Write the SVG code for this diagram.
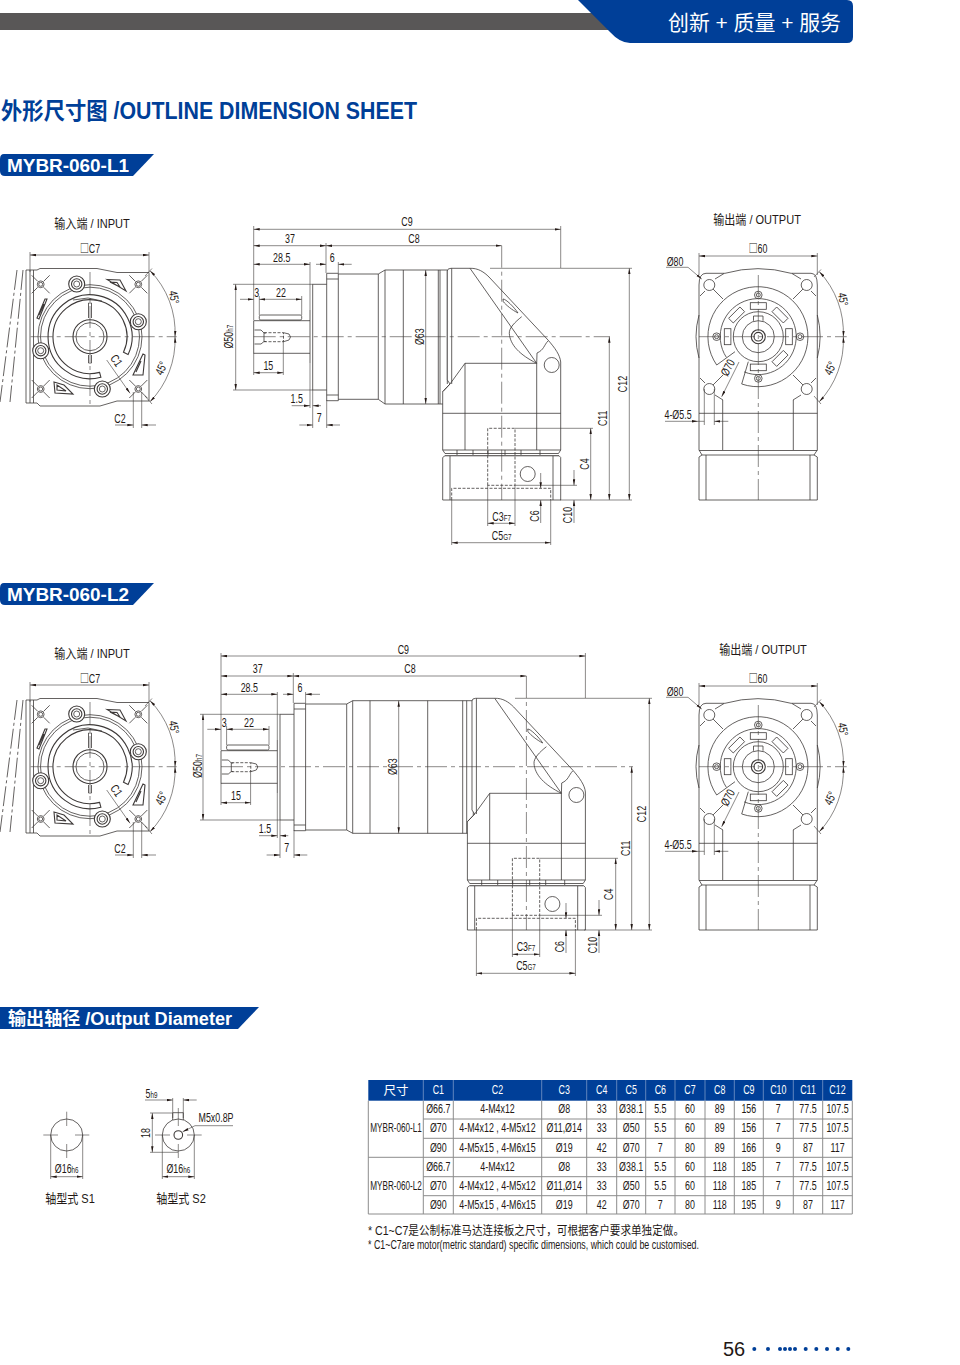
<svg xmlns="http://www.w3.org/2000/svg" xmlns:xlink="http://www.w3.org/1999/xlink" width="960" height="1365" viewBox="0 0 960 1365">
<style>
text{font-family:"Liberation Sans","Noto Sans CJK SC",sans-serif;fill:#231815;font-size:12px}
.m{text-anchor:middle;transform-box:fill-box;transform-origin:center;transform:scaleX(.74)}
.r{text-anchor:middle}
.lb{transform:scaleX(.85);font-size:13px}
.n{transform:scaleX(.68)}
.sub{font-size:8.500px}
.sq{font-family:"Noto Sans CJK SC",sans-serif;font-size:12px}
.bl{font-weight:bold;fill:#003f98}
.w{fill:#fff}
.wb{font-weight:bold;fill:#fff}
.g,.g *{fill:none;stroke:#3e3a39;stroke-width:.8}
.h{stroke-width:1.100!important}
.f{fill:#fff!important}
.d{fill:none;stroke:#3e3a39;stroke-width:.6}
.a{marker-end:url(#ar)}
.b{marker-start:url(#ar);marker-end:url(#ar)}
.dash{stroke-dasharray:3 1.500}
.cl{stroke-dasharray:22 4 4 4;fill:none;stroke:#3e3a39;stroke-width:.6}
.tb{fill:none;stroke:#8c8c8c;stroke-width:1}
.hd{fill:#fff}
</style>
<defs>
<marker id="ar" markerUnits="userSpaceOnUse" markerWidth="7" markerHeight="3" refX="6" refY="1.500" orient="auto-start-reverse"><path d="M0 .3L6 1.500L0 2.700Z" fill="#231815"/></marker>
<g id="hole"><circle r="3.400"/><circle r="2"/><path d="M-9 -9L-3 -3M9 -9L3 -3M-9 9L-3 3M9 9L3 3"/></g>
<g id="boss"><circle r="8" class="f h"/><circle r="5.200" class="h"/><circle r="3"/></g>
<g id="inview" class="g">
<path d="M17 270L0 402M23 270L10 402" stroke-dasharray="20 3 3 3"/>
<path d="M26 270V403M26 270H37L40 268.500H97L117 272.500H149V401H117L100 406H40L37 403H26M30 270V403M33.500 270V403"/>
<use xlink:href="#hole" x="40.700" y="284.300"/><use xlink:href="#hole" x="138.300" y="284.300"/><use xlink:href="#hole" x="40.700" y="389"/><use xlink:href="#hole" x="138.300" y="389"/>
<circle cx="90" cy="336.700" r="52"/><circle cx="90" cy="336.700" r="49.500"/>
<path class="h" d="M128.100 354.500A42 42 0 1 0 100.900 377.300L99.600 372.400A37 37 0 1 1 123.500 352.300Z"/>
<circle cx="90" cy="336.700" r="17" class="h"/><circle cx="90" cy="336.700" r="14"/>
<path d="M88.500 303V318M91.500 303V318M88.500 355V363M91.500 355V363M88.500 363H91.500M88.500 303H91.500M73 300L88 298L102 301"/>
<use xlink:href="#boss" x="76.700" y="284"/><use xlink:href="#boss" x="138.300" y="321.700"/><use xlink:href="#boss" x="40.700" y="350.700"/><use xlink:href="#boss" x="102.300" y="389"/>
<path class="h" d="M107 279.500L120 280L126 291ZM110 282L117 282.500L120 287Z"/>
<path class="h" d="M37 318L45 299L47 299L39 319ZM39 315L44 304"/>
<path class="h" d="M133 375L143 354L145 355L143 375ZM136 372L141 361"/>
<path class="h" d="M54 382L64 385L73 394L55 393ZM57 385L57 390L66 391Z"/>
</g>
<g id="outview" class="g">
<path d="M699 285Q699 273.300 706 273.300H725Q758 264 791 273.300H811Q817.300 273.300 817.300 285V450M699 285V450"/>
<path d="M699 315Q693 336.700 699 358M817.300 315Q823 336.700 817.300 358"/>
<path d="M699 413.300H817.300M722.700 400V450M793.300 400V450M699 450.500H817.300M702 455H814M699 450L702 455M817.300 450L814 455"/>
<path d="M699 457V500H817.300V457L814 455M699 457L702 455M706 455V500M810 455V500"/>
<path d="M716.700 365A50 50 0 1 1 741.700 384L748.300 361.700M716.700 365L735 351.700"/>
<path d="M726.400 357.400A38 38 0 1 1 744.100 371.900"/>
<circle cx="758.300" cy="336.700" r="25"/><circle cx="758.300" cy="336.700" r="16"/><circle cx="758.300" cy="336.700" r="7" class="h"/><circle cx="758.300" cy="336.700" r="4.300" class="h"/>
<path d="M753.500 320.800V316H763V320.800"/>
<g id="slots"><rect x="-8" y="-34" width="16" height="6.600" transform="translate(758.300 336.700)"/><rect x="-8" y="-34" width="16" height="6.600" transform="translate(758.300 336.700) rotate(45)"/><rect x="-8" y="-34" width="16" height="6.600" transform="translate(758.300 336.700) rotate(90)"/><rect x="-8" y="-34" width="16" height="6.600" transform="translate(758.300 336.700) rotate(135)"/><rect x="-8" y="-34" width="16" height="6.600" transform="translate(758.300 336.700) rotate(180)"/><rect x="-8" y="-34" width="16" height="6.600" transform="translate(758.300 336.700) rotate(270)"/><rect x="-8" y="-34" width="16" height="6.600" transform="translate(758.300 336.700) rotate(315)"/></g>
<circle cx="758.300" cy="295" r="3.800"/><circle cx="758.300" cy="295" r="2"/><circle cx="800" cy="336.700" r="3.800"/><circle cx="800" cy="336.700" r="2"/><circle cx="758.300" cy="378.400" r="3.800"/><circle cx="758.300" cy="378.400" r="2"/><circle cx="716.600" cy="336.700" r="3.800"/><circle cx="716.600" cy="336.700" r="2"/>
<circle cx="709.300" cy="285" r="5.500"/><circle cx="806.700" cy="285" r="5.500"/><circle cx="709.300" cy="389" r="5.500"/><circle cx="806.700" cy="389" r="5.500"/>
<path d="M700 296L705 291M715 279L724 273.500M713 289L723 299M816 296L811 291M801 279L792 273.500M803 289L793 299M700 378L705 383M715 395L723 400M713 385L723 375M816 378L811 383M801 395L793 400M803 385L793 375"/>
<path class="cl" d="M758.300 275V500M699 336.700H846.700"/>
</g>
<g id="shaft" class="g">
<path d="M253.700 320.700V353.300H310M253.700 320.700H310M310 310V363M312.700 284.300H326.700M312.700 390H326.700M312.700 284.300V390M326.700 273.300V400.700H338.300V273.300H326.700M326.700 279H338.300M326.700 395H338.300"/>
<rect x="259.300" y="315" width="42.400" height="5" rx="1.500"/>
<path d="M254.500 330H261L264 333V341.500L261 344H254.500M264 333H266M264 341.500H266"/>
<path class="dash" d="M264 332.700H283.500V341.700H264"/>
<path d="M283.500 332.700L289 334L290.500 337L289 340L283.500 341.700"/>
</g>
<g id="hsg" class="g">
<path class="f" d="M447.300 271Q447.300 268.300 451 268.300H470C478 268 484 272 489 277L548 340C555 348 560 355 560.700 362V450H442.700V391.700L450 384L447.300 380Z"/>
<path d="M451.700 268.300V384M442.700 391.700L450 384L465 363.300H536.700L536.700 450M465 363.300V450M442.700 413.300H560.700"/>
<path d="M470 268.300L536.700 363.300"/>
<path d="M521.700 316.700C515 322 509 328 509.300 333.300C510 345 520 355 536.700 363.300M548 341C544 345 544 350 537 353L536.700 363.300M503.300 301.700C506 305 512 310 518 313C514 307 506 299 503 299Z"/>
<circle class="f" cx="551.700" cy="365" r="7.500"/>
<path d="M442.700 450L445 453.500H558.500L560.700 450"/>
<path class="h" d="M445 455.700H559"/>
<path d="M457 450V455M473 450V455M488 450V455M505 450V455M521 450V455M540 450V455"/>
<path d="M445 455.700L442.700 457.500V500H560.700V457.500L559 455.700M450 456V500M553 456V500"/>
<circle cx="527.700" cy="474" r="7.500"/>
<path class="dash" d="M487.700 485.300V428.300H515V485.300ZM451.700 500V488.300H550.700V500"/>
</g>
</defs>

<g id="header">
<rect x="0" y="13" width="612" height="17" fill="#595757"/>
<path d="M578 0L610 32Q620 43 630 43H847Q853 43 853 37V6Q853 0 847 0Z" fill="#003f98"/>
<text x="668" y="30" class="w" style="font-size:21px" textLength="173" lengthAdjust="spacingAndGlyphs">创新 + 质量 + 服务</text>
</g>
<text id="title" x="1" y="119" class="bl" style="font-size:23px" textLength="416" lengthAdjust="spacingAndGlyphs">外形尺寸图 /OUTLINE DIMENSION SHEET</text>

<g id="tag-l1"><path d="M4 154H154L133 176H5Q0 176 0 171V159Q0 154 4 154Z" fill="#003f98"/><text x="7" y="172" class="wb" style="font-size:18px" textLength="122" lengthAdjust="spacingAndGlyphs">MYBR-060-L1</text></g>
<g id="tag-l2"><path d="M4 583H154L133 605H5Q0 605 0 600V588Q0 583 4 583Z" fill="#003f98"/><text x="7" y="601" class="wb" style="font-size:18px" textLength="122" lengthAdjust="spacingAndGlyphs">MYBR-060-L2</text></g>
<g id="tag-out"><path d="M0 1007H259L238 1029H0Z" fill="#003f98"/><text x="8" y="1025" class="wb" style="font-size:18px" textLength="224" lengthAdjust="spacingAndGlyphs">输出轴径 /Output Diameter</text></g>

<g id="l1-input">
<text x="92" y="228" class="m lb">输入端 / INPUT</text>
<use xlink:href="#inview"/>
<g class="connectors">
<path class="d b" d="M30 255H149"/><path class="d" d="M30 252V272M149 252V272"/>
<path class="cl" d="M30.700 336.700H176.700M90 272V405"/>
<path class="d a" d="M106.700 360L130 393.300"/>
<path class="d a" d="M115 425H133.300"/><path class="d a" d="M156 425H141.700"/><path class="d" d="M133.300 392V428M141.700 392V428"/>
<path class="d b" d="M150 270.700A88 88 0 0 1 175 336.700"/><path class="d b" d="M175 336.700A88 88 0 0 1 150 401.700"/>
<path class="d" d="M145 276L152 268.500M145 396L152 404"/>
</g>
<text x="90" y="253" class="m"><tspan class="sq">□</tspan>C7</text>
<text x="120" y="423" class="m">C2</text>
<text transform="translate(113 363) rotate(55) scale(.74 1)" class="r">C1</text>
<text transform="translate(170 298) rotate(80) scale(.74 1)" class="r">45°</text>
<text transform="translate(165 370) rotate(-65) scale(.74 1)" class="r">45°</text>
</g>

<g id="l2-input">
<text x="92" y="658" class="m lb">输入端 / INPUT</text>
<use xlink:href="#inview" y="430"/>
<g class="connectors">
<path class="d b" d="M30 685H149"/><path class="d" d="M30 682V702M149 682V702"/>
<path class="cl" d="M30.700 766.700H176.700M90 702V835"/>
<path class="d a" d="M106.700 790L130 823.300"/>
<path class="d a" d="M115 855H133.300"/><path class="d a" d="M156 855H141.700"/><path class="d" d="M133.300 822V858M141.700 822V858"/>
<path class="d b" d="M150 700.700A88 88 0 0 1 175 766.700"/><path class="d b" d="M175 766.700A88 88 0 0 1 150 831.700"/>
<path class="d" d="M145 706L152 698.500M145 826L152 834"/>
</g>
<text x="90" y="683.500" class="m"><tspan class="sq">□</tspan>C7</text>
<text x="120" y="853" class="m">C2</text>
<text transform="translate(113 793) rotate(55) scale(.74 1)" class="r">C1</text>
<text transform="translate(170 728) rotate(80) scale(.74 1)" class="r">45°</text>
<text transform="translate(165 800) rotate(-65) scale(.74 1)" class="r">45°</text>
</g>

<g id="l1-side">
<use xlink:href="#shaft"/>
<g class="g"><path d="M338.300 274H378.300L385 270H447.300M338.300 399.300H378.300L385 404H447.300M378.300 274V399.300M385 270V404M403.300 270V404M438.300 270V404M440 270V404M447.300 270V384"/></g>
<use xlink:href="#hsg"/>
<g class="connectors">
<path class="d b" d="M253.700 229.300H560.700"/><path class="d" d="M253.700 226V320M560.700 226V268M326 243V273"/>
<path class="d b" d="M253.700 245.700H326"/><path class="d b" d="M326 245.700H501.700"/>
<path class="d b" d="M253.700 264.300H310"/><path class="d a" d="M351.700 264.300H338.300"/><path class="d a" d="M316 264.300H326"/><path class="d" d="M310 262V310M338.300 262V273"/>
<path class="d b" d="M235.700 284.300V390"/><path class="d" d="M233 284.300H313M233 390H313"/>
<path class="d a" d="M240 299.300H253.700"/><path class="d b" d="M259.300 299.300H301.700"/><path class="d" d="M259.300 296V315M301.700 296V315"/>
<path class="d b" d="M253.700 372.700H283.300"/><path class="d" d="M253.700 353V375M283.300 340V375"/>
<path class="d a" d="M291.700 405.700H310"/><path class="d a" d="M321 405.700H312.700"/><path class="d" d="M310 363V408M312.700 390V428"/>
<path class="d a" d="M299.300 425H312.700"/><path class="d a" d="M340 425H326.700"/><path class="d" d="M326.700 400V428"/>
<path class="d b" d="M425.700 270V404"/>
<path class="cl" d="M253.700 336.700H610M501.700 245.700V500"/>
<path class="d" d="M490 268.300H632M515 428.300H593M515 485.300H577M560 500H632"/>
<path class="d b" d="M590.700 428.300V500"/><path class="d b" d="M609.300 336.700V500"/><path class="d b" d="M629.300 268.300V500"/>
<path class="d a" d="M574 470V485.300"/><path class="d a" d="M574 523V500"/>
<path class="d a" d="M540.700 473V488.300"/><path class="d a" d="M540.700 523V500"/>
<path class="d b" d="M487.700 523.300H515"/><path class="d" d="M487.700 485V526M515 485V526"/>
<path class="d b" d="M451.700 542.700H550.700"/><path class="d" d="M451.700 500V545M550.700 500V545"/>
</g>
<text x="407" y="226.500" class="m">C9</text><text x="290" y="243" class="m">37</text><text x="414" y="243" class="m">C8</text><text x="281.700" y="262" class="m">28.5</text><text x="332.300" y="262" class="m">6</text><text x="256.700" y="297.500" class="m">3</text><text x="281" y="297.500" class="m">22</text><text x="268.300" y="370" class="m">15</text><text x="296.700" y="403.500" class="m">1.5</text><text x="319.300" y="422.500" class="m">7</text>
<text transform="translate(233 336.700) rotate(-90) scale(.74 1)" class="r">Ø50<tspan class="sub">h7</tspan></text>
<text transform="translate(423.500 336.700) rotate(-90) scale(.74 1)" class="r">Ø63</text>
<text transform="translate(627 384) rotate(-90) scale(.74 1)" class="r">C12</text><text transform="translate(607 418.300) rotate(-90) scale(.74 1)" class="r">C11</text><text transform="translate(589 464) rotate(-90) scale(.74 1)" class="r">C4</text><text transform="translate(572 515) rotate(-90) scale(.74 1)" class="r">C10</text><text transform="translate(539 516) rotate(-90) scale(.74 1)" class="r">C6</text>
<text x="501.700" y="521" class="m">C3<tspan class="sub">F7</tspan></text><text x="501.700" y="540" class="m">C5<tspan class="sub">G7</tspan></text>
</g>

<g id="l2-side">
<use xlink:href="#shaft" x="-32.700" y="430"/>
<g class="g"><path d="M305.700 704H346.700L352.700 700.700H473.300M305.700 830H346.700L352.700 833.300H473.300M346.700 704V830M352.700 700.700V833.300M370 700.700V833.300M427.700 700.700V833.300M462.700 700.700V833.300M466.700 700.700V833.300M473.300 700.700V815"/></g>
<use xlink:href="#hsg" x="24.700" y="430"/>
<g class="connectors">
<path class="d b" d="M221 656H585.400"/><path class="d" d="M221 653V750M585.400 653V698M293.300 673V703"/>
<path class="d b" d="M221 676H293.300"/><path class="d b" d="M293.300 676H526.400"/>
<path class="d b" d="M221 694.300H277.300"/><path class="d a" d="M320 694.300H305.600"/><path class="d a" d="M283 694.300H293.300"/><path class="d" d="M277.300 692V740M305.600 692V703"/>
<path class="d b" d="M203 714.300V820"/><path class="d" d="M200 714.300H280M200 820H280"/>
<path class="d a" d="M207.300 729.300H221"/><path class="d b" d="M226.600 729.300H269"/><path class="d" d="M226.600 726V745M269 726V745"/>
<path class="d b" d="M221 802.700H250.600"/><path class="d" d="M221 783V805M250.600 770V805"/>
<path class="d a" d="M259 835.700H277.300"/><path class="d a" d="M288.300 835.700H280"/><path class="d" d="M277.300 793V838M280 820V858"/>
<path class="d a" d="M266.600 855H280"/><path class="d a" d="M307.300 855H294"/><path class="d" d="M294 830V858"/>
<path class="d b" d="M398.700 700.700V833.300"/>
<path class="cl" d="M221 766.700H633M526.400 676V930"/>
<path class="d" d="M515 698.300H652M539.700 858.300H618M539.700 915.300H602M584 930H652"/>
<path class="d b" d="M615.700 858.300V930"/><path class="d b" d="M631.700 766.700V930"/><path class="d b" d="M649.300 698.300V930"/>
<path class="d a" d="M599 900V915.300"/><path class="d a" d="M599 953V930"/>
<path class="d a" d="M566 903V918.300"/><path class="d a" d="M566 953V930"/>
<path class="d b" d="M512.400 954.300H539.700"/><path class="d" d="M512.400 915V957M539.700 915V957"/>
<path class="d b" d="M476.400 973.300H575.400"/><path class="d" d="M476.400 930V976M575.400 930V976"/>
</g>
<text x="403.300" y="654" class="m">C9</text><text x="257.700" y="673.500" class="m">37</text><text x="410" y="673.500" class="m">C8</text><text x="249.300" y="692" class="m">28.5</text><text x="300" y="692" class="m">6</text><text x="224.300" y="727.500" class="m">3</text><text x="249" y="727.500" class="m">22</text><text x="236" y="800" class="m">15</text><text x="265" y="833.500" class="m">1.5</text><text x="286.700" y="852.500" class="m">7</text>
<text transform="translate(201.500 766) rotate(-90) scale(.74 1)" class="r">Ø50<tspan class="sub">h7</tspan></text>
<text transform="translate(397 766.700) rotate(-90) scale(.74 1)" class="r">Ø63</text>
<text transform="translate(646 814) rotate(-90) scale(.74 1)" class="r">C12</text><text transform="translate(629.500 848.300) rotate(-90) scale(.74 1)" class="r">C11</text><text transform="translate(613 894.300) rotate(-90) scale(.74 1)" class="r">C4</text><text transform="translate(596.500 945) rotate(-90) scale(.74 1)" class="r">C10</text><text transform="translate(564 946.700) rotate(-90) scale(.74 1)" class="r">C6</text>
<text x="526" y="951" class="m">C3<tspan class="sub">F7</tspan></text><text x="526" y="970.500" class="m">C5<tspan class="sub">G7</tspan></text>
</g>

<g id="l1-output">
<text x="757" y="224" class="m lb">输出端 / OUTPUT</text>
<use xlink:href="#outview"/>
<g class="connectors">
<path class="d b" d="M699 256H817.300"/><path class="d" d="M699 253V275M817.300 253V275"/>
<path class="d a" d="M666 267.300H688L701.700 279"/>
<path class="d a" d="M739 362L721.700 396.700"/>
<path class="d a" d="M665 421.300H698"/><path class="d a" d="M728.300 421.300H714.300"/><path class="d" d="M704.300 389V425M714.300 389V425M698 421.300H704.300"/>
<path class="d b" d="M819.300 271.700A89 89 0 0 1 843.300 336.700"/><path class="d b" d="M843.300 336.700A89 89 0 0 1 819.300 401.700"/>
<path class="d" d="M814 277L821 269.500M814 396L821 404"/>
</g>
<text x="758" y="253" class="m"><tspan class="sq">□</tspan>60</text>
<text x="675" y="266" class="m">Ø80</text>
<text x="678" y="419" class="m">4-Ø5.5</text>
<text transform="translate(731.500 369.500) rotate(-62) scale(.74 1)" class="r">Ø70</text>
<text transform="translate(839 300) rotate(80) scale(.74 1)" class="r">45°</text>
<text transform="translate(834 370) rotate(-65) scale(.74 1)" class="r">45°</text>
</g>

<g id="l2-output">
<text x="763" y="654" class="m lb">输出端 / OUTPUT</text>
<use xlink:href="#outview" y="430"/>
<g class="connectors">
<path class="d b" d="M699 686H817.300"/><path class="d" d="M699 683V705M817.300 683V705"/>
<path class="d a" d="M666 697.300H688L701.700 709"/>
<path class="d a" d="M739 792L721.700 826.700"/>
<path class="d a" d="M665 851.300H698"/><path class="d a" d="M728.300 851.300H714.300"/><path class="d" d="M704.300 819V855M714.300 819V855M698 851.300H704.300"/>
<path class="d b" d="M819.300 701.700A89 89 0 0 1 843.300 766.700"/><path class="d b" d="M843.300 766.700A89 89 0 0 1 819.300 831.700"/>
<path class="d" d="M814 707L821 699.500M814 826L821 834"/>
</g>
<text x="758" y="683.500" class="m"><tspan class="sq">□</tspan>60</text>
<text x="675" y="696" class="m">Ø80</text>
<text x="678" y="849" class="m">4-Ø5.5</text>
<text transform="translate(731.500 799.500) rotate(-62) scale(.74 1)" class="r">Ø70</text>
<text transform="translate(839 730) rotate(80) scale(.74 1)" class="r">45°</text>
<text transform="translate(834 800) rotate(-65) scale(.74 1)" class="r">45°</text>
</g>

<g id="s1">
<g class="g"><circle cx="66.700" cy="1135" r="16"/></g>
<path class="d" d="M43.300 1135H58M75 1135H89.300M66.700 1111.700V1126M66.700 1144V1158M50.700 1135V1179M82.700 1135V1179"/>
<path class="d b" d="M50.700 1176.700H82.700"/>
<text x="66.700" y="1173.500" class="m">Ø16<tspan class="sub">h6</tspan></text>
<text x="70" y="1203" class="m lb">轴型式 S1</text>
</g>
<g id="s2">
<g class="g"><circle cx="178.300" cy="1135" r="16"/><circle cx="178.300" cy="1135" r="4.300" class="h"/><path d="M172.700 1120V1112.700H183.300V1120"/></g>
<path class="d" d="M155 1135H170M187 1135H201.700M178.300 1108V1126M178.300 1144V1158M162.300 1135V1179M194.300 1135V1179"/>
<path class="d b" d="M162.300 1176.700H194.300"/>
<path class="d a" d="M145 1100H172.700"/><path class="d a" d="M196.700 1100H183.300"/><path class="d" d="M172.700 1098V1118M183.300 1098V1118"/>
<path class="d b" d="M152.300 1113V1152.300"/><path class="d" d="M150 1113H172M150 1152.300H178"/>
<path class="d a" d="M233 1125.700H195L182.700 1131.700"/>
<text x="178.300" y="1173.500" class="m">Ø16<tspan class="sub">h6</tspan></text>
<text x="151.500" y="1098" class="m">5<tspan class="sub">h9</tspan></text>
<text transform="translate(150 1133) rotate(-90) scale(.74 1)" class="r">18</text>
<text x="216" y="1122.500" class="m">M5x0.8P</text>
<text x="181" y="1203" class="m lb">轴型式 S2</text>
</g>

<g id="table">
<rect x="368.300" y="1080" width="484" height="20.700" fill="#003f98"/>
<path class="tb" d="M368.300 1100.700V1214H852.300V1100.700M423.300 1100.700V1214M453.300 1100.700V1214M541.700 1100.700V1214M586.700 1100.700V1214M616.700 1100.700V1214M645.700 1100.700V1214M675 1100.700V1214M705 1100.700V1214M734.300 1100.700V1214M763.300 1100.700V1214M793.300 1100.700V1214M822.700 1100.700V1214"/>
<path class="tb" d="M423.300 1119H852.300M423.300 1138.300H852.300M368.300 1157.300H852.300M423.300 1176.700H852.300M423.300 1195.700H852.300"/>
<path d="M423.300 1080V1100.700M453.300 1080V1100.700M541.700 1080V1100.700M586.700 1080V1100.700M616.700 1080V1100.700M645.700 1080V1100.700M675 1080V1100.700M705 1080V1100.700M734.300 1080V1100.700M763.300 1080V1100.700M793.300 1080V1100.700M822.700 1080V1100.700" stroke="#9fb5d8" stroke-width=".6"/>
<text x="396" y="1095" class="r hd" style="font-size:12.500px">尺寸</text><text x="438.300" y="1094" class="m hd">C1</text><text x="497.500" y="1094" class="m hd">C2</text><text x="564.200" y="1094" class="m hd">C3</text><text x="601.700" y="1094" class="m hd">C4</text><text x="631.200" y="1094" class="m hd">C5</text><text x="660.300" y="1094" class="m hd">C6</text><text x="690" y="1094" class="m hd">C7</text><text x="719.700" y="1094" class="m hd">C8</text><text x="748.800" y="1094" class="m hd">C9</text><text x="778.300" y="1094" class="m hd">C10</text><text x="808" y="1094" class="m hd">C11</text><text x="837.500" y="1094" class="m hd">C12</text>
<text x="396" y="1132.500" class="m n">MYBR-060-L1</text><text x="396" y="1189.800" class="m n">MYBR-060-L2</text>
<g id="r1"><text x="438.300" y="1113.500" class="m">Ø66.7</text><text x="497.500" y="1113.500" class="m">4-M4x12</text><text x="564.200" y="1113.500" class="m">Ø8</text><text x="601.700" y="1113.500" class="m">33</text><text x="631.200" y="1113.500" class="m">Ø38.1</text><text x="660.300" y="1113.500" class="m">5.5</text><text x="690" y="1113.500" class="m">60</text><text x="719.700" y="1113.500" class="m">89</text><text x="748.800" y="1113.500" class="m">156</text><text x="778.300" y="1113.500" class="m">7</text><text x="808" y="1113.500" class="m">77.5</text><text x="837.500" y="1113.500" class="m">107.5</text></g>
<g id="r2"><text x="438.300" y="1132.500" class="m">Ø70</text><text x="497.500" y="1132.500" class="m">4-M4x12 , 4-M5x12</text><text x="564.200" y="1132.500" class="m">Ø11,Ø14</text><text x="601.700" y="1132.500" class="m">33</text><text x="631.200" y="1132.500" class="m">Ø50</text><text x="660.300" y="1132.500" class="m">5.5</text><text x="690" y="1132.500" class="m">60</text><text x="719.700" y="1132.500" class="m">89</text><text x="748.800" y="1132.500" class="m">156</text><text x="778.300" y="1132.500" class="m">7</text><text x="808" y="1132.500" class="m">77.5</text><text x="837.500" y="1132.500" class="m">107.5</text></g>
<g id="r3"><text x="438.300" y="1151.700" class="m">Ø90</text><text x="497.500" y="1151.700" class="m">4-M5x15 , 4-M6x15</text><text x="564.200" y="1151.700" class="m">Ø19</text><text x="601.700" y="1151.700" class="m">42</text><text x="631.200" y="1151.700" class="m">Ø70</text><text x="660.300" y="1151.700" class="m">7</text><text x="690" y="1151.700" class="m">80</text><text x="719.700" y="1151.700" class="m">89</text><text x="748.800" y="1151.700" class="m">166</text><text x="778.300" y="1151.700" class="m">9</text><text x="808" y="1151.700" class="m">87</text><text x="837.500" y="1151.700" class="m">117</text></g>
<g id="r4"><text x="438.300" y="1170.800" class="m">Ø66.7</text><text x="497.500" y="1170.800" class="m">4-M4x12</text><text x="564.200" y="1170.800" class="m">Ø8</text><text x="601.700" y="1170.800" class="m">33</text><text x="631.200" y="1170.800" class="m">Ø38.1</text><text x="660.300" y="1170.800" class="m">5.5</text><text x="690" y="1170.800" class="m">60</text><text x="719.700" y="1170.800" class="m">118</text><text x="748.800" y="1170.800" class="m">185</text><text x="778.300" y="1170.800" class="m">7</text><text x="808" y="1170.800" class="m">77.5</text><text x="837.500" y="1170.800" class="m">107.5</text></g>
<g id="r5"><text x="438.300" y="1189.800" class="m">Ø70</text><text x="497.500" y="1189.800" class="m">4-M4x12 , 4-M5x12</text><text x="564.200" y="1189.800" class="m">Ø11,Ø14</text><text x="601.700" y="1189.800" class="m">33</text><text x="631.200" y="1189.800" class="m">Ø50</text><text x="660.300" y="1189.800" class="m">5.5</text><text x="690" y="1189.800" class="m">60</text><text x="719.700" y="1189.800" class="m">118</text><text x="748.800" y="1189.800" class="m">185</text><text x="778.300" y="1189.800" class="m">7</text><text x="808" y="1189.800" class="m">77.5</text><text x="837.500" y="1189.800" class="m">107.5</text></g>
<g id="r6"><text x="438.300" y="1208.800" class="m">Ø90</text><text x="497.500" y="1208.800" class="m">4-M5x15 , 4-M6x15</text><text x="564.200" y="1208.800" class="m">Ø19</text><text x="601.700" y="1208.800" class="m">42</text><text x="631.200" y="1208.800" class="m">Ø70</text><text x="660.300" y="1208.800" class="m">7</text><text x="690" y="1208.800" class="m">80</text><text x="719.700" y="1208.800" class="m">118</text><text x="748.800" y="1208.800" class="m">195</text><text x="778.300" y="1208.800" class="m">9</text><text x="808" y="1208.800" class="m">87</text><text x="837.500" y="1208.800" class="m">117</text></g>
</g>
<text x="368" y="1235" textLength="316" lengthAdjust="spacingAndGlyphs">* C1~C7是公制标准马达连接板之尺寸，可根据客户要求单独定做。</text>
<text x="368" y="1249" textLength="331" lengthAdjust="spacingAndGlyphs">* C1~C7are motor(metric standard)  specific dimensions, which could be customised.</text>

<g id="page">
<text x="723" y="1356" style="font-size:20px">56</text>
<g fill="#003f98"><circle cx="754.300" cy="1349" r="2"/><circle cx="768" cy="1349" r="2"/><circle cx="780" cy="1349" r="2"/><circle cx="785" cy="1349" r="2"/><circle cx="790" cy="1349" r="2"/><circle cx="795" cy="1349" r="2"/><circle cx="805.700" cy="1349" r="2"/><circle cx="816.300" cy="1349" r="2"/><circle cx="827" cy="1349" r="2"/><circle cx="837.700" cy="1349" r="2"/><circle cx="848.300" cy="1349" r="2"/></g>
</g>
</svg>
